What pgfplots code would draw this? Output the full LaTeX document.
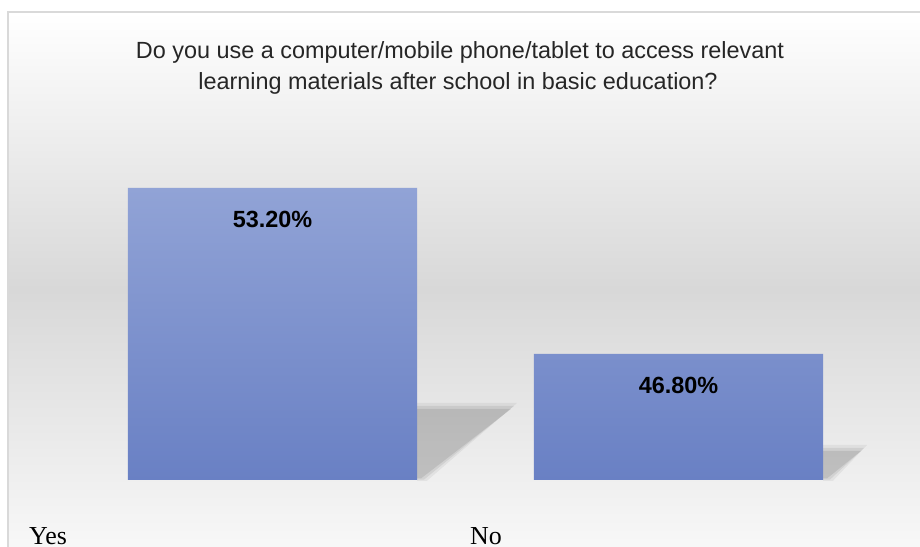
\documentclass[border=0pt]{standalone}
\usepackage{pgfplots}
\pgfplotsset{compat=1.18}
\usepackage{fontspec}
\setmainfont{Liberation Sans}
\newfontfamily\seriffont{Liberation Serif}
\definecolor{bartop}{HTML}{91A3D6}
\definecolor{barbot}{HTML}{6980C4}
\definecolor{bgmid}{HTML}{D8D8D8}
\definecolor{bgbot}{HTML}{FAFAFA}
\definecolor{framecol}{HTML}{D9D9D9}
\begin{document}
\begin{tikzpicture}
\begin{scope}[x=1bp,y=1bp]
\useasboundingbox (0,0) rectangle (920,547);
\begin{scope}
\clip (0,0) rectangle (920,547);
\shade[top color=white, bottom color=bgbot, middle color=bgmid] (8,-20) rectangle (940,535);
\draw[framecol, line width=1.5bp] (8,-20) rectangle (940,535);
\foreach \o/\a in {7/0.05,4/0.07,1/0.09}{
  \fill[black, opacity=\a] (417,137+\o) -- (510+\o,137+\o) -- (420+\o,69-0.4*\o) -- (417,69-0.4*\o) -- cycle;
  \fill[black, opacity=\a] (823,95+\o) -- (860+\o,95+\o) -- (826+\o,69-0.4*\o) -- (823,69-0.4*\o) -- cycle;
}
\end{scope}
\node[anchor=base, font=\fontsize{23.5}{27}\selectfont, text=black!85] at (460,488) {Do you use a computer/mobile phone/tablet to access relevant};
\node[anchor=base, font=\fontsize{23.5}{27}\selectfont, text=black!85] at (458,457) {learning materials after school in basic education?};
\node[anchor=base west, font=\seriffont\fontsize{26}{30}\selectfont, inner sep=0pt] at (29,2.5) {Yes};
\node[anchor=base west, font=\seriffont\fontsize{26}{30}\selectfont, inner sep=0pt] at (470,2.5) {No};
\end{scope}
\begin{axis}[
  at={(69.5bp,67bp)}, anchor=south west,
  width=812bp, height=312.8bp, scale only axis,
  xmin=-0.5, xmax=1.5, ymin=41.94, ymax=54,
  hide axis,
  ybar, bar width=0.712,
  /pgf/number format/assume math mode=true,
]
\addplot[draw=none, top color=bartop, bottom color=barbot,
  nodes near coords={\pgfmathprintnumber[fixed,fixed zerofill,precision=2]{\pgfplotspointmeta}\%},
  every node near coord/.append style={anchor=base, yshift=-40bp, font=\bfseries\fontsize{23.5}{26}\selectfont, text=black},
] coordinates {(0,53.2) (1,46.8)};
\end{axis}
\end{tikzpicture}
\end{document}
